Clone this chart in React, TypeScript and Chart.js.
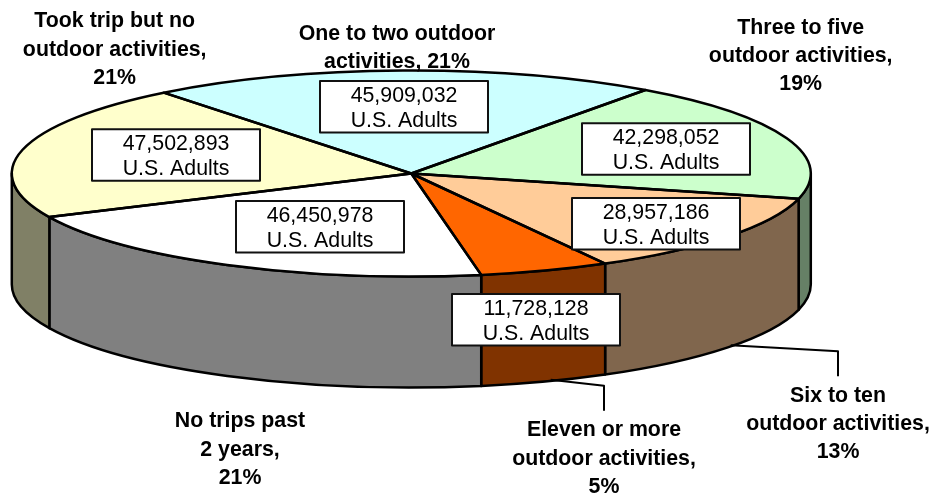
import React, { useEffect, useRef } from "react";
import { Chart, registerables } from "chart.js";

Chart.register(...registerables);

// ---- data -----------------------------------------------------------------
const categoryLines: string[][] = [
  ["One to two outdoor", "activities, 21%"],
  ["Three to five", "outdoor activities,", "19%"],
  ["Six to ten", "outdoor activities,", "13%"],
  ["Eleven or more", "outdoor activities,", "5%"],
  ["No trips past", "2 years,", "21%"],
  ["Took trip but no", "outdoor activities,", "21%"],
];
const adults: number[] = [45909032, 42298052, 28957186, 11728128, 46450978, 47502893];
const sliceColors: string[] = ["#CCFFFF", "#CCFFCC", "#FFCC99", "#FF6600", "#FFFFFF", "#FFFFCC"];
const unitLabel = "U.S. Adults";

// ---- layout (not data) ----------------------------------------------------
const W = 934;
const H = 493;
const CX = 411.3;
const CY = 173.5;
const RX = 399.5;
const RY = 103;
const DEPTH = 111;
const LINE = 2.5;
const ROTATION = -38.3;
const FONT_SIZE = 21.33;
const FAMILY = '"Liberation Sans", Arial, sans-serif';
const catCenters: [number, number][] = [
  [397, 34], [800.7, 28], [838, 396], [604, 430.5], [240, 421.5], [114.7, 21.5],
];
const CAT_LEADING = 28.3;
const boxOrigins: [number, number][] = [
  [320, 81], [582, 123.3], [572, 198], [452, 294], [236, 201], [92, 129.3],
];
const BOX_W = 168;
const BOX_H = 51.5;
const VALUE_LEADING = 24.5;
const VALUE_SHIFT = 1.8;
const leaders: [number, number][][] = [
  [[730.7, 345.3], [838, 351.3], [838, 376.3]],
  [[550.7, 379.7], [604, 385.7], [604, 410.7]],
];

const darker = (hex: string): string => {
  const n = parseInt(hex.slice(1), 16);
  const half = (v: number) => Math.round(v / 2);
  return `rgb(${half((n >> 16) & 255)},${half((n >> 8) & 255)},${half(n & 255)})`;
};

const pie3d = {
  id: "pie3d",
  beforeDatasetsDraw(chart: any) {
    const ctx: CanvasRenderingContext2D = chart.ctx;
    const arcs = chart.getDatasetMeta(0).data;
    // side wall of the cylinder, for the part of each slice facing the viewer
    ctx.save();
    ctx.lineWidth = LINE;
    ctx.strokeStyle = "#000";
    ctx.lineJoin = "round";
    arcs.forEach((arc: any, i: number) => {
      for (const k of [-1, 0, 1]) {
        const a = Math.max(arc.startAngle + k * 2 * Math.PI, 0);
        const b = Math.min(arc.endAngle + k * 2 * Math.PI, Math.PI);
        if (b <= a) continue;
        ctx.beginPath();
        ctx.ellipse(CX, CY, RX, RY, 0, a, b);
        ctx.ellipse(CX, CY + DEPTH, RX, RY, 0, b, a, true);
        ctx.closePath();
        ctx.fillStyle = darker(sliceColors[i]);
        ctx.fill();
        ctx.stroke();
      }
    });
    ctx.restore();
    // flatten the library's circular arcs into the tilted top face
    const first = arcs[0];
    const R = first.outerRadius;
    ctx.save();
    ctx.translate(CX, CY);
    ctx.scale(RX / R, RY / R);
    ctx.translate(-first.x, -first.y);
  },
  afterDatasetsDraw(chart: any) {
    const ctx: CanvasRenderingContext2D = chart.ctx;
    ctx.restore();
    const arcs = chart.getDatasetMeta(0).data;
    ctx.save();
    ctx.lineWidth = LINE;
    ctx.strokeStyle = "#000";
    ctx.lineJoin = "round";
    arcs.forEach((arc: any) => {
      ctx.beginPath();
      ctx.moveTo(CX, CY);
      ctx.ellipse(CX, CY, RX, RY, 0, arc.startAngle, arc.endAngle);
      ctx.closePath();
      ctx.stroke();
    });
    // leader lines
    ctx.lineWidth = 2;
    leaders.forEach((pts) => {
      ctx.beginPath();
      pts.forEach(([x, y], i) => (i ? ctx.lineTo(x, y) : ctx.moveTo(x, y)));
      ctx.stroke();
    });
    // value boxes
    ctx.textAlign = "center";
    ctx.textBaseline = "middle";
    adults.forEach((v, i) => {
      const [x, y] = boxOrigins[i];
      ctx.fillStyle = "#fff";
      ctx.fillRect(x, y, BOX_W, BOX_H);
      ctx.lineWidth = 2;
      ctx.strokeStyle = "#111";
      ctx.strokeRect(x, y, BOX_W, BOX_H);
      ctx.fillStyle = "#000";
      ctx.font = `${FONT_SIZE}px ${FAMILY}`;
      const mx = x + BOX_W / 2;
      const my = y + BOX_H / 2 + VALUE_SHIFT;
      ctx.fillText(v.toLocaleString("en-US"), mx, my - VALUE_LEADING / 2);
      ctx.fillText(unitLabel, mx, my + VALUE_LEADING / 2);
    });
    // category labels
    ctx.font = `bold ${FONT_SIZE}px ${FAMILY}`;
    ctx.fillStyle = "#000";
    categoryLines.forEach((lines, i) => {
      const [x, y] = catCenters[i];
      lines.forEach((t, j) => ctx.fillText(t, x, y + j * CAT_LEADING));
    });
    ctx.restore();
  },
};

export default function App() {
  const ref = useRef<HTMLCanvasElement>(null);
  useEffect(() => {
    document.body.style.margin = "0";
    document.body.style.background = "#fff";
    const chart = new Chart(ref.current as HTMLCanvasElement, {
      type: "pie",
      data: {
        labels: categoryLines.map((l) => l.join(" ")),
        datasets: [
          {
            data: adults,
            backgroundColor: sliceColors,
            borderWidth: 0,
            hoverOffset: 0,
            clip: false,
          } as any,
        ],
      },
      options: {
        animation: false,
        responsive: false,
        rotation: ROTATION,
        events: [],
        layout: { padding: 0 },
        plugins: { legend: { display: false }, tooltip: { enabled: false } },
      },
      plugins: [pie3d],
    });
    return () => chart.destroy();
  }, []);
  return (
    <div style={{ position: "absolute", left: 0, top: 0, width: W, height: H }}>
      <canvas ref={ref} width={W} height={H} style={{ display: "block" }} />
    </div>
  );
}
